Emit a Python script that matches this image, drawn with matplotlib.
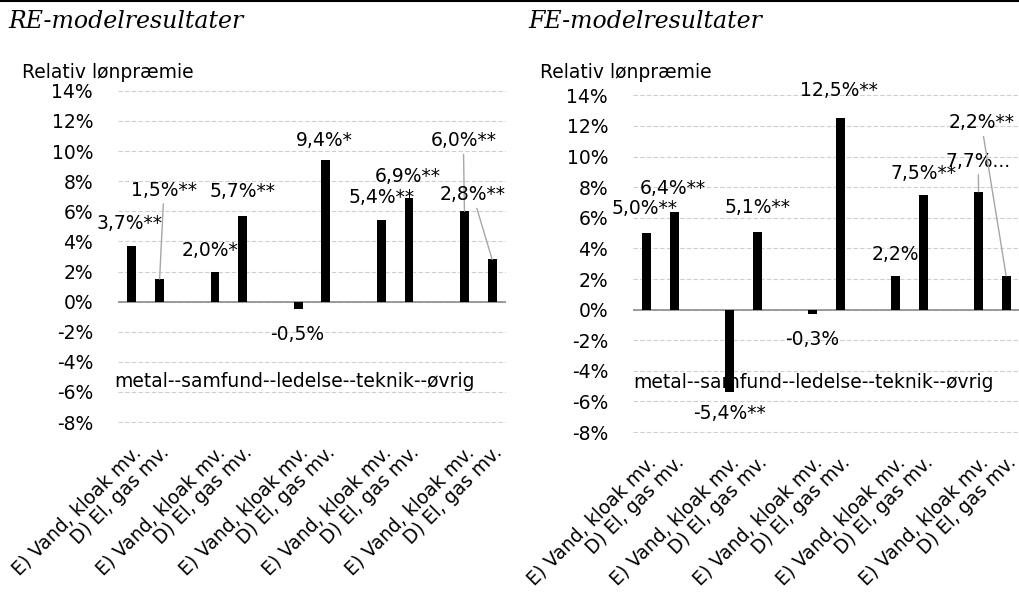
import matplotlib.pyplot as plt

# Kategorier: fem grupper med to brancher hver, tom plads mellem grupperne
kategorier = [
    "E) Vand, kloak mv.", "D) El, gas mv.", "",
    "E) Vand, kloak mv.", "D) El, gas mv.", "",
    "E) Vand, kloak mv.", "D) El, gas mv.", "",
    "E) Vand, kloak mv.", "D) El, gas mv.", "",
    "E) Vand, kloak mv.", "D) El, gas mv.",
]

# Relativ lønpræmie i procent (None = tom plads)
re_vaerdier = [3.7, 1.5, None, 2.0, 5.7, None, -0.5, 9.4, None,
               5.4, 6.9, None, 6.0, 2.8]
fe_vaerdier = [5.0, 6.4, None, -5.4, 5.1, None, -0.3, 12.5, None,
               2.2, 7.5, None, 7.7, 2.2]

re_etiketter = ["3,7%**", "1,5%**", None, "2,0%**", "5,7%**", None, "-0,5%",
                "9,4%*", None, "5,4%**", "6,9%**", None, "6,0%**", "2,8%**"]
fe_etiketter = ["5,0%**", "6,4%**", None, "-5,4%**", "5,1%**", None, "-0,3%",
                "12,5%**", None, "2,2%", "7,5%**", None, "7,7%...", "2,2%**"]

# Placering af etiketter (x, y) og om der tegnes en forbindelseslinje
re_placering = [(-0.07, 5.2, False), (1.16, 7.4, True), None, (2.97, 3.4, False),
                (3.99, 7.3, False), None, (5.98, -2.2, False), (6.96, 10.7, False),
                None, (9.02, 6.9, False), (9.96, 8.3, False), None,
                (11.96, 10.7, True), (12.3, 7.1, True)]
fe_placering = [(-0.07, 6.6, False), (0.94, 7.9, False), None, (3.0, -6.8, False),
                (3.99, 6.7, False), None, (5.98, -1.95, False), (6.96, 14.3, False),
                None, (8.99, 3.6, False), (10.0, 8.9, False), None,
                (11.99, 9.7, True), (12.1, 12.2, True)]

gruppetekst = "metal--samfund--ledelse--teknik--øvrig"
yticks = list(range(-8, 16, 2))
FS = 13.5

plt.rcParams["font.family"] = "DejaVu Sans"

fig = plt.figure(figsize=(10.2, 5.92), dpi=100)


def tegn_panel(ax, vaerdier, etiketter, placering, gruppe_pos):
    x = [i for i, v in enumerate(vaerdier) if v is not None]
    y = [v for v in vaerdier if v is not None]
    ax.bar(x, y, width=0.32, color="black", zorder=3)

    ax.set_xlim(-0.5, len(kategorier) - 0.5)
    ax.set_ylim(-8.06, 14.06)
    ax.set_yticks(yticks)
    ax.set_yticklabels([f"{t}%" for t in yticks], fontsize=FS)
    ax.yaxis.grid(True, linestyle=(0, (4, 2)), color="#cfcfcf", linewidth=0.8)
    ax.set_axisbelow(True)
    ax.axhline(0, color="#8c8c8c", linewidth=1.2, zorder=2)
    for s in ax.spines.values():
        s.set_visible(False)
    ax.tick_params(length=0, pad=18)

    ax.set_xticks(range(len(kategorier)))
    ax.set_xticklabels(kategorier, rotation=45, ha="right",
                       rotation_mode="anchor", fontsize=FS)
    ax.tick_params(axis="x", pad=14)

    for i, (v, tekst, pos) in enumerate(zip(vaerdier, etiketter, placering)):
        if v is None:
            continue
        tx, ty, linje = pos
        if linje:
            ax.annotate(tekst, xy=(i, v), xytext=(tx, ty), ha="center",
                        va="center", fontsize=FS, zorder=5,
                        arrowprops=dict(arrowstyle="-", color="#a6a6a6",
                                        lw=1.0, shrinkA=1, shrinkB=0))
        else:
            ax.text(tx, ty, tekst, ha="center", va="center", fontsize=FS,
                    zorder=5)

    ax.text(gruppe_pos[0], gruppe_pos[1], gruppetekst, ha="left",
            va="center", fontsize=FS, zorder=5)
    return ax


ax1 = fig.add_axes([0.1157, 0.2855, 0.3804, 0.5625])
tegn_panel(ax1, re_vaerdier, re_etiketter, re_placering, (-0.65, -5.3))

ax2 = fig.add_axes([0.6206, 0.2686, 0.3794, 0.5719])
tegn_panel(ax2, fe_vaerdier, fe_etiketter, fe_placering, (-0.5, -4.74))

fig.text(0.022, 1 - 72 / 592, "Relativ lønpræmie", fontsize=FS,
         ha="left", va="center")
fig.text(0.529, 1 - 72 / 592, "Relativ lønpræmie", fontsize=FS,
         ha="left", va="center")

fig.text(0.008, 1 - 22 / 592, "RE-modelresultater", fontsize=17,
         style="italic", family="DejaVu Serif", va="center", ha="left")
fig.text(0.518, 1 - 22 / 592, "FE-modelresultater", fontsize=17,
         style="italic", family="DejaVu Serif", va="center", ha="left")

# tynd streg langs overkanten
fig.add_artist(plt.Line2D([0, 1], [0.998, 0.998], color="black", lw=1.5,
                          transform=fig.transFigure))

fig.savefig("out.png", dpi=100)
